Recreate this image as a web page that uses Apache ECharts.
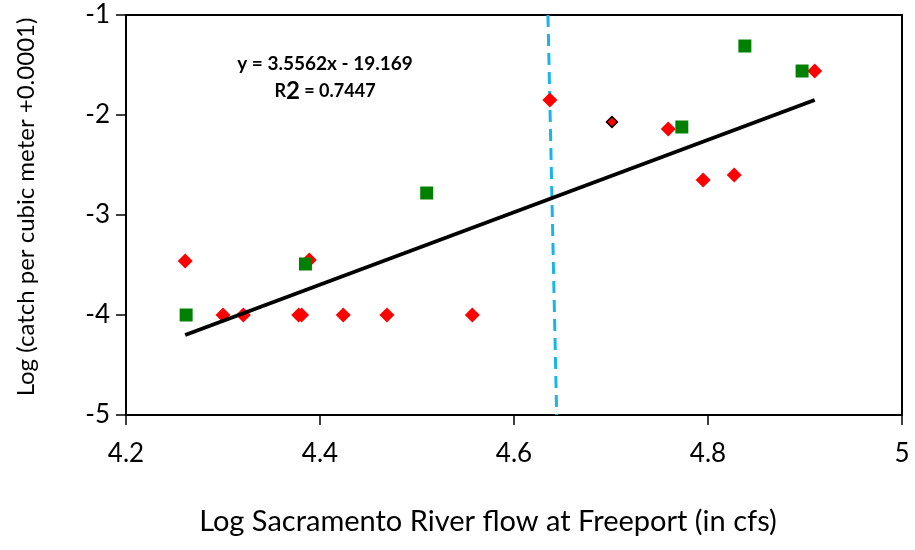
<!DOCTYPE html>
<html>
<head>
<meta charset="utf-8">
<script src="https://cdn.jsdelivr.net/npm/echarts@6/dist/echarts.min.js"></script>
<style>
  html, body { margin: 0; padding: 0; background: #fff; }
  #chart { width: 915px; height: 550px; }
</style>
</head>
<body>
<div id="chart"></div>
<script>
// 数据
var redPoints = [
  [4.261, -3.46], [4.300, -4.0], [4.321, -4.0], [4.378, -4.0], [4.381, -4.0],
  [4.389, -3.45], [4.424, -4.0], [4.469, -4.0], [4.557, -4.0], [4.637, -1.85],
  [4.759, -2.14], [4.795, -2.65], [4.827, -2.60], [4.910, -1.56]
];
var outlinedPoint = [[4.701, -2.07]];
var greenPoints = [
  [4.262, -4.0], [4.385, -3.49], [4.510, -2.78], [4.773, -2.12],
  [4.838, -1.31], [4.897, -1.56]
];
// 趋势线两端
var trendLine = [[4.261, -4.20], [4.910, -1.85]];
// 蓝色虚线
var flowLine = [[4.635, -1], [4.644, -5]];
var xTicks = ['4.2', '4.4', '4.6', '4.8', '5'];

var font = 'Lato, "Open Sans", sans-serif';
var myChart = echarts.init(document.getElementById('chart'));

var option = {
  animation: false,
  textStyle: { fontFamily: font },
  grid: {
    left: 126, right: 13, top: 15, bottom: 135,
    outerBoundsMode: 'none',
    show: true, borderColor: '#000', borderWidth: 2
  },
  xAxis: {
    type: 'value',
    min: 4.2, max: 5, interval: 0.2,
    name: 'Log Sacramento River flow at Freeport (in cfs)',
    nameLocation: 'middle',
    nameGap: 92,
    nameTextStyle: { fontSize: 29, color: '#000', fontFamily: font, padding: [0, 52, 0, 0] },
    axisLine: { lineStyle: { color: '#000', width: 2 } },
    axisTick: { show: true, length: 10, lineStyle: { color: '#000', width: 1.5 } },
    axisLabel: {
      fontSize: 26, color: '#000', margin: 26,
      formatter: function (v) {
        var i = Math.round((v - 4.2) / 0.2);
        return xTicks[i];
      }
    },
    splitLine: { show: false }
  },
  yAxis: {
    type: 'value',
    min: -5, max: -1, interval: 1,
    name: 'Log (catch per cubic meter +0.0001)',
    nameLocation: 'middle',
    nameGap: 88,
    nameTextStyle: { fontSize: 24, color: '#000', fontFamily: font, padding: [0, 0, 0, 16] },
    axisLine: { lineStyle: { color: '#000', width: 2 } },
    axisTick: { show: true, length: 10, lineStyle: { color: '#000', width: 1.5 } },
    axisLabel: { fontSize: 26, color: '#000', margin: 16 },
    splitLine: { show: false }
  },
  graphic: [
    {
      type: 'text', x: 325, y: 64,
      style: {
        text: 'y = 3.5562x - 19.169', fontSize: 19, fontWeight: 'bold', fill: '#000',
        fontFamily: font, align: 'center', verticalAlign: 'middle'
      }
    },
    {
      type: 'text', x: 325, y: 91,
      style: {
        text: '{a|R}{b|2}{a| = 0.7447}',
        align: 'center', verticalAlign: 'middle',
        rich: {
          a: { fontSize: 18, fontWeight: 'bold', fill: '#000', fontFamily: font },
          b: { fontSize: 24, fontWeight: 'bold', fill: '#000', fontFamily: font }
        }
      }
    }
  ],
  series: [
    {
      name: 'flow',
      type: 'line',
      data: flowLine,
      symbol: 'none',
      lineStyle: { color: '#18B4EC', width: 3, type: [12, 7] },
      z: 1
    },
    {
      name: 'red',
      type: 'scatter',
      data: redPoints,
      symbol: 'diamond',
      symbolSize: [15, 15],
      itemStyle: { color: '#FF0000', opacity: 1 },
      z: 2
    },
    {
      name: 'outlined',
      type: 'scatter',
      data: outlinedPoint,
      symbol: 'diamond',
      symbolSize: [11, 11],
      itemStyle: { color: '#FF0000', borderColor: '#000', borderWidth: 1.5, opacity: 1 },
      z: 2
    },
    {
      name: 'green',
      type: 'scatter',
      data: greenPoints,
      symbol: 'rect',
      symbolSize: [13, 13],
      itemStyle: { color: '#008000', opacity: 1 },
      z: 3
    },
    {
      name: 'trend',
      type: 'line',
      data: trendLine,
      symbol: 'none',
      lineStyle: { color: '#000', width: 4 },
      z: 4
    }
  ]
};

myChart.setOption(option);
</script>
</body>
</html>
